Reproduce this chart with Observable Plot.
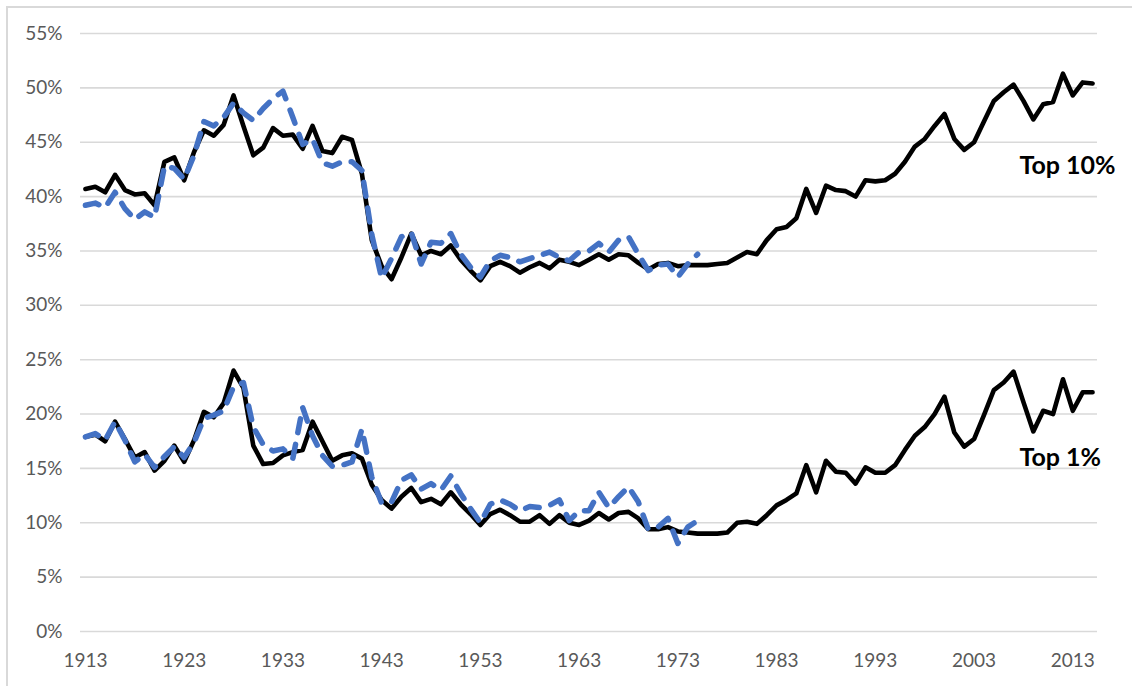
<!DOCTYPE html>
<html><head><meta charset="utf-8">
<script src="https://cdn.jsdelivr.net/npm/d3@7"></script>
<script src="https://cdn.jsdelivr.net/npm/@observablehq/plot@0.6"></script>
<style>
html,body{margin:0;padding:0;background:#fff;overflow:hidden;}
#chart{position:absolute;left:0;top:0;}
#frame{position:absolute;left:6px;top:6px;width:1140px;height:700px;border-left:2px solid #d9d9d9;border-top:2px solid #d9d9d9;pointer-events:none;}
</style></head><body>
<div id="chart"></div><div id="frame"></div>
<script>
const startYear = 1913;
// Top 10% share, solid black (1913-2015)
const top10Black = [40.7,40.9,40.4,42.0,40.6,40.2,40.3,39.2,43.2,43.6,41.5,44.1,46.1,45.6,46.6,49.3,46.5,43.8,44.5,46.3,
45.6,45.7,44.4,46.5,44.2,44.0,45.5,45.2,42.1,36.0,33.6,32.4,34.4,36.6,34.6,35.0,34.7,35.5,34.2,33.2,
32.3,33.6,34.0,33.6,33.0,33.5,33.9,33.4,34.2,34.0,33.7,34.2,34.7,34.2,34.7,34.6,33.9,33.3,33.8,33.9,
33.6,33.7,33.7,33.7,33.8,33.9,34.4,34.9,34.7,36.0,37.0,37.2,38.0,40.7,38.5,41.0,40.6,40.5,40.0,41.5,
41.4,41.5,42.1,43.2,44.6,45.3,46.5,47.6,45.3,44.3,45.0,46.9,48.8,49.6,50.3,48.8,47.1,48.5,48.7,51.3,
49.3,50.5,50.4];
// Top 10% share, dashed blue (1913-1975)
const top10Blue = [39.2,39.4,39.0,40.4,38.9,37.9,38.6,38.1,42.8,42.6,41.6,43.8,46.9,46.5,47.3,48.6,47.7,47.0,48.1,49.0,
49.7,47.3,44.8,45.3,43.1,42.8,43.2,43.2,42.4,36.5,32.5,34.3,36.3,36.7,33.8,35.8,35.7,36.6,34.7,33.5,
32.6,34.1,34.6,34.4,34.0,34.3,34.6,34.9,34.4,34.1,34.9,35.0,35.7,34.9,36.0,36.3,34.7,33.2,33.7,33.8,
32.6,33.8,34.7];
// Top 1% share, solid black (1913-2015)
const top1Black = [17.9,18.1,17.5,19.3,17.7,16.0,16.5,14.8,15.7,17.1,15.6,17.6,20.2,19.7,21.0,24.0,22.4,17.1,15.4,15.5,
16.2,16.5,16.7,19.3,17.5,15.7,16.2,16.4,15.9,13.5,12.1,11.3,12.4,13.2,11.9,12.2,11.7,12.8,11.7,10.8,
9.8,10.8,11.2,10.7,10.1,10.1,10.7,9.9,10.7,10.0,9.8,10.2,10.9,10.3,10.9,11.0,10.4,9.4,9.4,9.6,
9.2,9.1,9.0,9.0,9.0,9.1,10.0,10.1,9.9,10.7,11.6,12.1,12.7,15.3,12.8,15.7,14.7,14.6,13.6,15.1,
14.6,14.6,15.3,16.7,18.0,18.8,20.0,21.6,18.3,17.0,17.7,19.9,22.2,22.9,23.9,21.1,18.4,20.3,20.0,23.2,
20.3,22.0,22.0];
// Top 1% share, dashed blue (1913-1975)
const top1Blue = [17.9,18.2,17.6,19.3,17.6,15.6,16.3,15.1,16.1,17.0,16.0,17.4,19.6,19.9,20.3,22.5,22.9,18.8,17.2,16.6,
16.8,15.9,20.6,18.0,16.2,15.2,15.3,15.6,18.6,14.2,11.8,11.9,13.9,14.4,13.1,13.6,13.0,14.3,12.7,11.3,
10.0,11.7,12.1,11.7,11.1,11.5,11.4,11.6,12.1,10.2,11.1,11.1,12.8,11.4,12.4,13.3,11.9,9.4,9.6,10.4,
8.1,9.6,10.2];

const xTicks = [1913,1923,1933,1943,1953,1963,1973,1983,1993,2003,2013];
const yTicks = [0,5,10,15,20,25,30,35,40,45,50,55];
const labelTexts = ["Top 10%","Top 1%"];
const labelYears = [2007.6,2007.6];
const labelValues = [42.8,16.0];

const rows = (vals) => vals.map((v,i) => ({year: startYear + i, value: v}));
const labels = labelTexts.map((t,i) => ({text: t, year: labelYears[i], value: labelValues[i]}));

const chart = Plot.plot({
  width: 1132,
  height: 686,
  marginTop: 33,
  marginBottom: 55,
  marginLeft: 80,
  marginRight: 35,
  style: {fontFamily: "Lato, 'Open Sans', sans-serif", fontSize: "19px", color: "#595959", background: "transparent"},
  x: {domain: [1912.5, 2015.5], ticks: xTicks, tickFormat: d => String(d), tickSize: 0, tickPadding: 22, label: null},
  y: {domain: [0, 55], ticks: yTicks, tickFormat: d => d + "%", tickSize: 0, tickPadding: 18, label: null},
  marks: [
    Plot.ruleY(yTicks, {stroke: "#d9d9d9", strokeWidth: 1.6}),
    Plot.line(rows(top10Black), {x: "year", y: "value", stroke: "#000", strokeWidth: 4.6, strokeLinejoin: "round"}),
    Plot.line(rows(top1Black), {x: "year", y: "value", stroke: "#000", strokeWidth: 4.6, strokeLinejoin: "round"}),
    Plot.line(rows(top10Blue), {x: "year", y: "value", stroke: "#4472C4", strokeWidth: 5.5, strokeDasharray: "14,12", strokeLinecap: "round", strokeLinejoin: "round"}),
    Plot.line(rows(top1Blue), {x: "year", y: "value", stroke: "#4472C4", strokeWidth: 5.5, strokeDasharray: "14,12", strokeLinecap: "round", strokeLinejoin: "round"}),
    Plot.text(labels, {x: "year", y: "value", text: "text", textAnchor: "start", fill: "#000", fontWeight: "bold", fontSize: 25})
  ]
});
document.getElementById("chart").appendChild(chart);
</script>
</body></html>
